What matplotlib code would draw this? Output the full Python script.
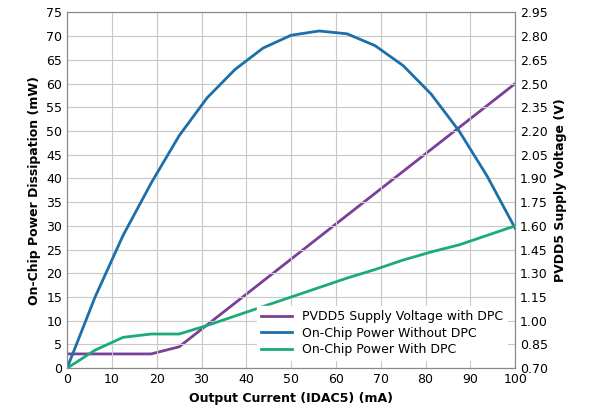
import matplotlib.pyplot as plt
import numpy as np

x_pts = [0, 6.25, 12.5, 18.75, 25, 31.25, 37.5, 43.75, 50, 56.25, 62.5, 68.75, 75, 81.25, 87.5, 93.75, 100]
no_dpc = [0, 15, 28, 39, 49, 57, 63, 67.5, 70.2, 71.1, 70.5, 68, 63.8, 57.8, 50, 40.5, 29.5]
with_dpc = [0, 3.8, 6.5, 7.2, 7.2, 9, 11, 13, 15, 17, 19, 20.8, 22.8, 24.5, 26, 28, 30]
pv_x = [0, 18.75, 25, 100]
pv_v = [0.79, 0.79, 0.835, 2.5]

plt.rcParams['font.family'] = 'DejaVu Sans'
fig, ax = plt.subplots(figsize=(5.99, 4.16), dpi=100)
fig.subplots_adjust(left=0.112, right=0.86, top=0.97, bottom=0.115)
ax2 = ax.twinx()

purple = '#7b3f98'
blue = '#1d6fa9'
green = '#1aab7a'

ax2.plot(pv_x, pv_v, color=purple, lw=2)
ax.plot(x_pts, no_dpc, color=blue, lw=2)
ax.plot(x_pts, with_dpc, color=green, lw=2)

ax.set_xlim(0, 100)
ax.set_ylim(0, 75)
ax2.set_ylim(0.70, 2.95)
ax.set_xticks(np.arange(0, 101, 10))
ax.set_yticks(np.arange(0, 76, 5))
ax2.set_yticks(np.arange(0.70, 2.96, 0.15))
ax2.set_yticklabels(['%.2f' % v for v in np.arange(0.70, 2.96, 0.15)])
ax.grid(True, color='#c8c8c8', lw=0.8)
for a in (ax, ax2):
    a.tick_params(labelsize=9, length=0)
    for s in a.spines.values():
        s.set_color('#888888')

ax.set_xlabel('Output Current (IDAC5) (mA)', fontsize=9, fontweight='bold')
ax.set_ylabel('On-Chip Power Dissipation (mW)', fontsize=9, fontweight='bold')
ax2.set_ylabel('PVDD5 Supply Voltage (V)', fontsize=9, fontweight='bold')

handles = [plt.Line2D([], [], color=c, lw=2) for c in (purple, blue, green)]
labels = ['PVDD5 Supply Voltage with DPC', 'On-Chip Power Without DPC', 'On-Chip Power With DPC']
leg = ax.legend(handles, labels, loc='lower right', bbox_to_anchor=(0.995, 0.005),
                fontsize=9, frameon=True, fancybox=False, framealpha=1,
                edgecolor='white', handlelength=2.5, borderpad=0.3, labelspacing=0.3)
ax.set_zorder(ax2.get_zorder() + 1)
ax.patch.set_visible(False)

fig.savefig('out.png')
